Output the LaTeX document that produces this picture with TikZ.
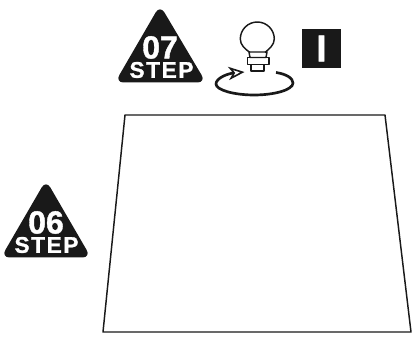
\documentclass[tikz,border=0pt]{standalone}
\usepackage{fontspec}
\setmainfont[BoldFeatures={FakeBold=1.2}]{Liberation Sans}
\newfontfamily\stepfont[LetterSpace=7,BoldFeatures={FakeBold=1.2}]{Liberation Sans}
\usetikzlibrary{arrows.meta,positioning}
\begin{document}
\begin{tikzpicture}[x=0.75pt,y=-0.75pt,
		badge/.style={fill=black!90,rounded corners=6.5pt},
		num/.style={text=white,font=\bfseries\fontsize{24}{24}\selectfont,inner sep=0pt},
		steplabel/.style={text=white,font=\stepfont\bfseries\fontsize{17}{17}\selectfont,inner sep=0pt},
		outline/.style={draw=black!90,line width=1.1pt,line join=round}]
	\useasboundingbox (0,0) rectangle (414,338);
	% step badges
	\fill[badge] (160,5) -- (206,82.5) -- (115,82.5) -- cycle;
	\node[num] (num7) at (160,47.5) {07};
	\node[steplabel] (step7) at (161.5,70) {STEP};
	\fill[badge] (46,180) -- (91,257.5) -- (1,257.5) -- cycle;
	\node[num] (num6) at (46,222.5) {06};
	\node[steplabel] (step6) at (46.5,245) {STEP};
	% lamp
	\draw[outline] (250,52.5) .. controls (245,49) and (240.3,45) .. (240.3,39)
		arc[start angle=180,end angle=360,radius=17]
		.. controls (274.3,45) and (269,49) .. (265,52.5);
	\draw[outline] (249,52) -- (267,52) -- (266,57.5) -- (250,57.5) -- cycle;
	\draw[outline] (247.5,57.5) rectangle (269,64.5);
	\draw[outline] (251,64.5) rectangle (264,71);
	% rotation
	\coordinate (turnstart) at (276,72.5);
	\coordinate (turnend) at (244.5,72);
	\draw[line width=2pt,black!90,-{Stealth[open,length=12pt,width=10pt,inset=3.5pt,line width=1.2pt]}]
		(turnstart) .. controls (286,74) and (293,78) .. (293,83)
		.. controls (293,90) and (274,95) .. (254,95)
		.. controls (234,95) and (216,90) .. (216,84)
		.. controls (216,78) and (228,73.5) .. (turnend);
	% mark
	\node[fill=black!90,text=white,minimum width=29.5pt,minimum height=29.5pt,inner sep=0pt,
		font=\bfseries\fontsize{28}{28}\selectfont] (mark) at (321.5,48.5) {I};
	% sheet
	\draw[outline] (125,115) -- (385,115) -- (411,332) -- (103,332) -- cycle;
\end{tikzpicture}
\end{document}
